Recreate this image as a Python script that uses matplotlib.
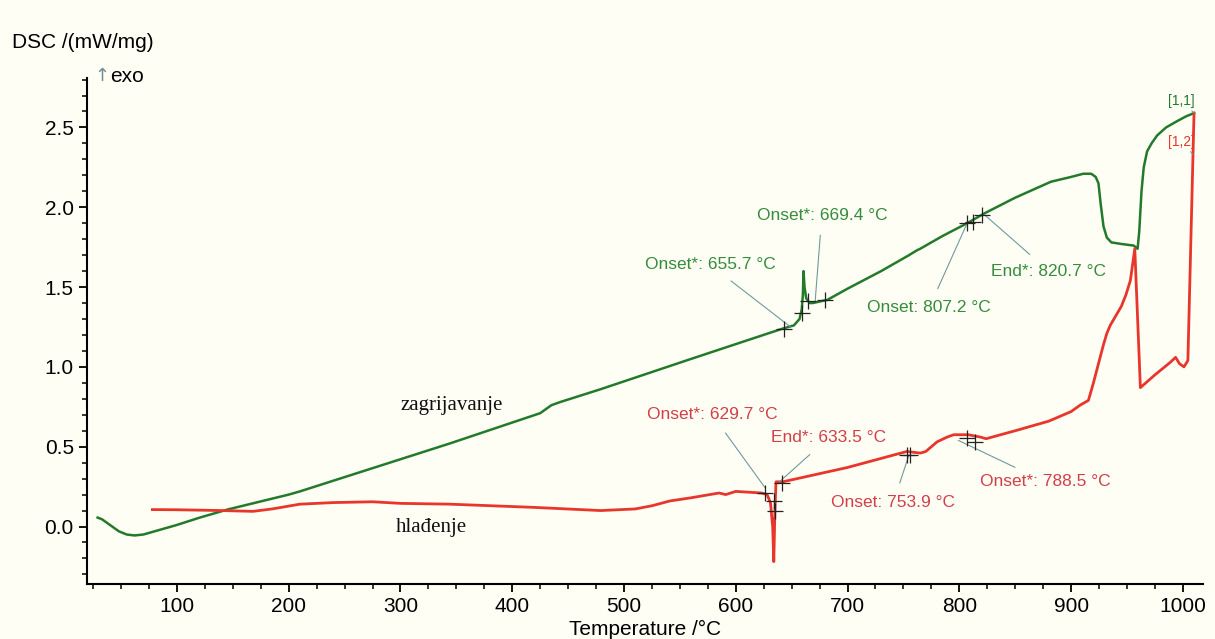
import matplotlib
matplotlib.use("Agg")
import matplotlib.pyplot as plt
from matplotlib.ticker import MultipleLocator, FormatStrFormatter

plt.rcParams['font.family'] = ['Liberation Sans', 'DejaVu Sans']

# heating curve (zagrijavanje)
heat_T = [29, 33, 40, 48, 55, 62, 70, 80, 90, 100, 120, 145, 200, 210, 344,
          425, 435, 443, 479, 560, 642, 652, 657, 659, 660, 660.6, 661.5, 663,
          666, 669, 682, 700, 730, 755, 762, 765, 785, 807, 822, 850, 882, 900,
          911, 918, 922, 924.5, 926.5, 929, 932, 936, 945, 956, 959.5, 961, 963,
          965, 968, 972, 977, 985, 995, 1003, 1010]
heat_dsc = [0.056, 0.045, 0.01, -0.03, -0.05, -0.056, -0.05, -0.03, -0.01, 0.01,
            0.055, 0.106, 0.20, 0.22, 0.52, 0.71, 0.76, 0.78, 0.86, 1.05, 1.24,
            1.26, 1.30, 1.36, 1.45, 1.60, 1.50, 1.43, 1.40, 1.40, 1.42, 1.49,
            1.60, 1.70, 1.73, 1.74, 1.82, 1.90, 1.96, 2.06, 2.16, 2.19, 2.21,
            2.21, 2.19, 2.15, 2.02, 1.88, 1.81, 1.78, 1.77, 1.76, 1.74, 1.85,
            2.10, 2.25, 2.35, 2.40, 2.45, 2.50, 2.54, 2.57, 2.59]

# cooling curve (hlađenje), in recording order from 1010 °C downwards
cool_T = [1010, 1004.5, 1001, 997, 993.5, 989, 975, 962, 957, 955, 953, 949,
          945, 940, 935, 932, 929, 926, 920, 915.5, 908, 900, 880, 850, 824,
          819, 808, 795, 789, 780, 770, 765, 753, 700, 642, 636, 635, 634, 633,
          631, 628, 623, 600, 591, 585, 560, 541, 525, 510, 479, 419, 344, 300,
          275, 240, 210, 185, 168, 140, 100, 78]
cool_dsc = [2.59, 1.04, 1.00, 1.02, 1.06, 1.03, 0.95, 0.87, 1.74, 1.64,
            1.54, 1.45, 1.38, 1.32, 1.26, 1.21, 1.14, 1.06, 0.90, 0.79, 0.76,
            0.72, 0.66, 0.60, 0.55, 0.56, 0.575, 0.575, 0.56, 0.53, 0.47, 0.46,
            0.47, 0.37, 0.28, 0.28, 0.10, -0.22, 0.00, 0.15, 0.20, 0.21, 0.22,
            0.20, 0.21, 0.18, 0.16, 0.13, 0.11, 0.10, 0.12, 0.14, 0.145, 0.155,
            0.15, 0.14, 0.11, 0.095, 0.10, 0.105, 0.106]

# evaluation crosses
heat_cross_T = [643, 659.5, 665, 680, 807, 812.6, 820.7]
heat_cross_dsc = [1.24, 1.34, 1.41, 1.42, 1.90, 1.91, 1.95]
cool_cross_T = [626.5, 634, 635, 641, 753.5, 756, 807, 814]
cool_cross_dsc = [0.21, 0.16, 0.10, 0.27, 0.45, 0.45, 0.556, 0.53]

# (text, point on curve, text position)
heat_notes = [("Onset*: 655.7 °C", (649, 1.25), (577, 1.64)),
              ("Onset*: 669.4 °C", (671, 1.41), (677, 1.95)),
              ("Onset: 807.2 °C", (807, 1.90), (773, 1.37)),
              ("End*: 820.7 °C", (823, 1.95), (880, 1.60))]
cool_notes = [("Onset*: 629.7 °C", (626.5, 0.24), (579, 0.70)),
              ("End*: 633.5 °C", (639, 0.28), (683, 0.556)),
              ("Onset: 753.9 °C", (755, 0.45), (741, 0.15)),
              ("Onset*: 788.5 °C", (799, 0.54), (877, 0.28))]

bg = '#FFFEF4'
green = '#237A2B'
red = '#E8362C'
green_txt = '#348C3C'
red_txt = '#D23F48'
lead = '#6F9A9C'

fig = plt.figure(figsize=(12.15, 6.39), dpi=100, facecolor=bg)
ax = fig.add_axes([0.0716, 0.0861, 0.9185, 0.7919], facecolor=bg)

ax.plot(heat_T, heat_dsc, color=green, lw=1.8, zorder=3)
ax.plot(cool_T, cool_dsc, color=red, lw=2.0, zorder=3)
ax.plot(heat_cross_T, heat_cross_dsc, '+', color='#222222', ms=11, mew=0.9, zorder=4)
ax.plot(cool_cross_T, cool_cross_dsc, '+', color='#222222', ms=11, mew=0.9, zorder=4)

for txt, xy, xyt in heat_notes:
    ax.annotate(txt, xy=xy, xytext=xyt, color=green_txt, fontsize=12.5,
                ha='center', va='center',
                arrowprops=dict(arrowstyle='-', color=lead, lw=0.8,
                                shrinkA=7, shrinkB=0))
for txt, xy, xyt in cool_notes:
    ax.annotate(txt, xy=xy, xytext=xyt, color=red_txt, fontsize=12.5,
                ha='center', va='center',
                arrowprops=dict(arrowstyle='-', color=lead, lw=0.8,
                                shrinkA=7, shrinkB=0))

ax.annotate("[1,1]", xy=(1010, 2.59), xytext=(999, 2.665), color=green, fontsize=10,
            ha='center', va='center',
            arrowprops=dict(arrowstyle='-', color=lead, lw=0.7, shrinkA=4, shrinkB=0))
ax.annotate("[1,2]", xy=(1009, 2.33), xytext=(999, 2.41), color=red, fontsize=10,
            ha='center', va='center',
            arrowprops=dict(arrowstyle='-', color=lead, lw=0.7, shrinkA=4, shrinkB=0))

ax.text(346, 0.76, "zagrijavanje", family='Liberation Serif', fontsize=15,
        ha='center', va='center', color='#111111')
ax.text(328, -0.006, "hlađenje", family='Liberation Serif', fontsize=15,
        ha='center', va='center', color='#111111')

ax.set_xlim(19.5, 1018)
ax.set_ylim(-0.36, 2.81)
ax.xaxis.set_major_locator(MultipleLocator(100))
ax.xaxis.set_minor_locator(MultipleLocator(25))
ax.yaxis.set_major_locator(MultipleLocator(0.5))
ax.yaxis.set_minor_locator(MultipleLocator(0.1))
ax.yaxis.set_major_formatter(FormatStrFormatter('%.1f'))
ax.tick_params(which='major', direction='out', length=6, width=1.3, labelsize=15)
ax.tick_params(which='minor', direction='out', length=3.5, width=1.1)
for s in ['top', 'right']:
    ax.spines[s].set_visible(False)
for s in ['left', 'bottom']:
    ax.spines[s].set_linewidth(1.5)

ax.set_xlabel("Temperature /°C", fontsize=15, labelpad=3)
fig.text(12 / 1215, 1 - 42 / 639, "DSC /(mW/mg)", fontsize=15, ha='left', va='center')
fig.text(94 / 1215, 1 - 76 / 639, "↑", fontsize=13, color='#6E8C9A', ha='left', va='center',
         family='DejaVu Sans')
fig.text(110 / 1215, 1 - 77 / 639, "exo", fontsize=15, ha='left', va='center')

fig.savefig("out.png", dpi=100, facecolor=bg)
